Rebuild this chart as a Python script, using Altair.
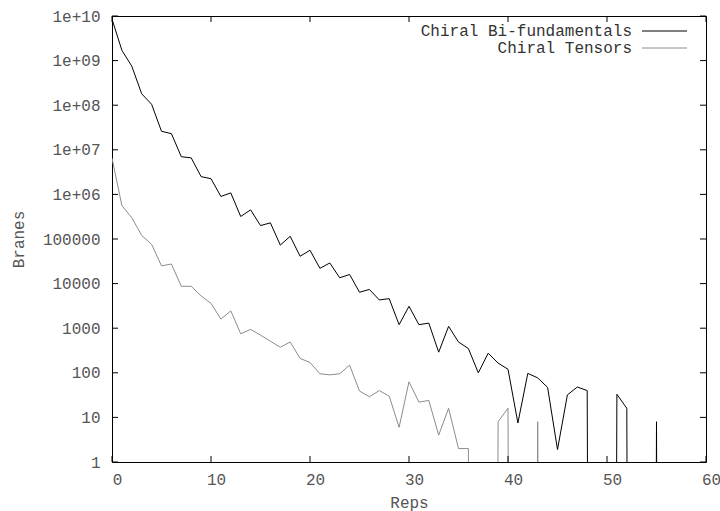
import altair as alt
import pandas as pd

# ---- data ----
series_names = ["Chiral Bi-fundamentals", "Chiral Tensors"]

reps_bi = list(range(57))
bi_fundamentals = [
    8.5e9, 1.7e9, 7.5e8, 1.8e8, 1.05e8, 2.6e7, 2.3e7, 7.0e6, 6.6e6, 2.5e6,
    2.25e6, 9.0e5, 1.08e6, 3.2e5, 4.5e5, 2.0e5, 2.3e5, 7.3e4, 1.15e5, 4.1e4,
    5.6e4, 2.2e4, 2.9e4, 1.35e4, 1.6e4, 6.4e3, 7.4e3, 4.3e3, 4.6e3, 1.2e3,
    3.1e3, 1.2e3, 1.3e3, 290, 1.1e3, 490, 350, 100, 275, 165,
    120, 7.5, 97, 77, 47, 1.9, 32, 48, 40, 0,
    0, 33, 16, 0, 0, 8, 0,
]

reps_t = list(range(45))
tensors = [
    6.5e6, 5.6e5, 3.0e5, 1.2e5, 7.6e4, 2.5e4, 2.75e4, 8.7e3, 8.7e3, 5.3e3,
    3.6e3, 1.6e3, 2.45e3, 750, 940, 700, 510, 375, 490, 210,
    170, 95, 90, 95, 148, 39, 29, 40, 30, 6,
    63, 22, 24, 4, 16, 2, 2, 0, 0, 8,
    16, 0, 0, 8, 0,
]

x_ticks = [0, 10, 20, 30, 40, 50, 60]
y_ticks = [1, 10, 100, 1000, 10000, 100000, 1e6, 1e7, 1e8, 1e9, 1e10]

# zero counts cannot sit on a log axis: push them far below the bottom, clipped
FLOOR = 1e-60
rows = []
for x, v in zip(reps_bi, bi_fundamentals):
    rows.append({"reps": x, "branes": v if v > 0 else FLOOR, "series": series_names[0], "order": 0})
for x, v in zip(reps_t, tensors):
    rows.append({"reps": x, "branes": v if v > 0 else FLOOR, "series": series_names[1], "order": 1})
df = pd.DataFrame(rows)

W, H = 594, 446
FONT = "Liberation Mono"
FS = 16
LABEL_COLOR = "#555555"
COLORS = ["#000000", "#8c8c8c"]

x_scale = alt.Scale(domain=[0, 60], nice=False, zero=False)
y_scale = alt.Scale(type="log", domain=[1, 1e10], nice=False)

label_expr = ("datum.value >= 1000000 ? '1e+' + (round(log(datum.value)/LN10) < 10 ? '0' : '') "
              "+ round(log(datum.value)/LN10) : format(datum.value, 'd')")

x_axis = alt.Axis(values=x_ticks, title="Reps", ticks=False, domain=False, grid=False,
                  labelPadding=9, labelOffset=5, labelFlush=False, labelOverlap=False,
                  labelFont=FONT, labelFontSize=FS, labelColor=LABEL_COLOR,
                  titleFont=FONT, titleFontSize=FS, titleFontWeight="normal", titleColor=LABEL_COLOR,
                  titleY=40, titleBaseline="middle")
y_axis = alt.Axis(values=y_ticks, labelExpr=label_expr, title="Branes", ticks=False, domain=False,
                  grid=False, labelPadding=12, labelFlush=False, labelOverlap=False,
                  labelFont=FONT, labelFontSize=FS, labelColor=LABEL_COLOR,
                  titleFont=FONT, titleFontSize=FS, titleFontWeight="normal", titleColor=LABEL_COLOR,
                  titleX=-94, titleY=H / 2, titleBaseline="middle", titleAngle=270)

lines = alt.Chart(df).mark_line(clip=True, strokeWidth=1).encode(
    x=alt.X("reps:Q", scale=x_scale, axis=x_axis),
    y=alt.Y("branes:Q", scale=y_scale, axis=y_axis),
    color=alt.Color("series:N", scale=alt.Scale(domain=series_names, range=COLORS), legend=None),
    order=alt.Order("order:Q"),
)

# inward tick marks on all four sides (gnuplot style)
xt = pd.DataFrame({"reps": x_ticks})
yt = pd.DataFrame({"branes": y_ticks})
TL = 6
tick_bottom = alt.Chart(xt).mark_rule(color="black", strokeWidth=1).encode(
    x=alt.X("reps:Q", scale=x_scale, axis=x_axis), y=alt.value(H - TL), y2=alt.value(H))
tick_top = alt.Chart(xt).mark_rule(color="black", strokeWidth=1).encode(
    x=alt.X("reps:Q", scale=x_scale, axis=x_axis), y=alt.value(0), y2=alt.value(TL))
tick_left = alt.Chart(yt).mark_rule(color="black", strokeWidth=1).encode(
    y=alt.Y("branes:Q", scale=y_scale, axis=y_axis), x=alt.value(0), x2=alt.value(TL))
tick_right = alt.Chart(yt).mark_rule(color="black", strokeWidth=1).encode(
    y=alt.Y("branes:Q", scale=y_scale, axis=y_axis), x=alt.value(W - TL), x2=alt.value(W))

# key in the top right corner, labels left of the line samples
legend_layers = []
for i, name in enumerate(series_names):
    ld = pd.DataFrame({"series": [name]})
    ypos = 15 + 17 * i
    legend_layers.append(
        alt.Chart(ld).mark_text(align="right", baseline="middle", font=FONT, fontSize=FS,
                                color="#333333").encode(
            text="series:N", x=alt.value(520), y=alt.value(ypos)))
    legend_layers.append(
        alt.Chart(ld).mark_rule(color=COLORS[i], strokeWidth=1).encode(
            x=alt.value(530), x2=alt.value(575), y=alt.value(ypos)))

chart = alt.layer(
    lines, tick_bottom, tick_top, tick_left, tick_right, *legend_layers
).properties(
    width=W, height=H,
    padding={"left": 112, "top": 16, "right": 14, "bottom": 49},
    autosize=alt.AutoSizeParams(type="none"),
    background="white",
).configure_view(stroke="black", strokeWidth=1)

chart.save("out.html", embed_options={"renderer": "svg", "actions": False})
